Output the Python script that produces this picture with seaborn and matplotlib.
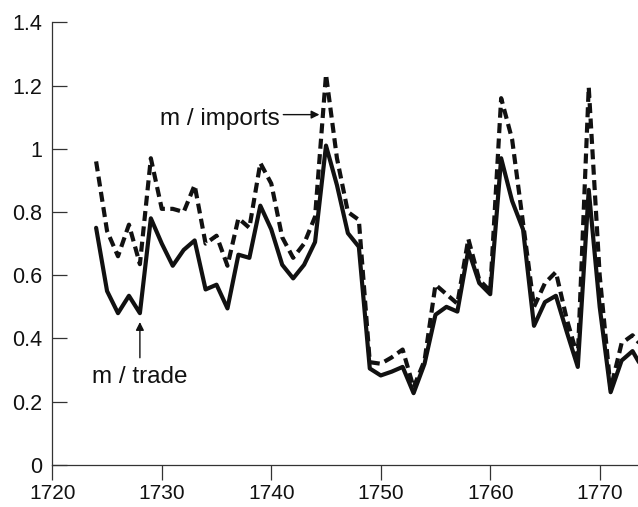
import pandas as pd
import seaborn as sns
import matplotlib.pyplot as plt

# annual series
years = list(range(1724, 1775))
m_trade = [0.75, 0.55, 0.48, 0.535, 0.48, 0.78, 0.70, 0.63, 0.68, 0.71,
           0.555, 0.57, 0.495, 0.665, 0.655, 0.82, 0.745, 0.633, 0.59, 0.633,
           0.705, 1.01, 0.885, 0.733, 0.69, 0.305, 0.283, 0.295, 0.31, 0.227,
           0.32, 0.475, 0.50, 0.485, 0.68, 0.575, 0.54, 0.97, 0.835, 0.745,
           0.44, 0.515, 0.535, 0.42, 0.31, 0.87, 0.50, 0.23, 0.33, 0.36, 0.30]
m_imports = [0.96, 0.74, 0.66, 0.76, 0.635, 0.97, 0.81, 0.81, 0.80, 0.885,
             0.70, 0.725, 0.63, 0.78, 0.75, 0.955, 0.89, 0.72, 0.655, 0.70,
             0.785, 1.235, 0.97, 0.80, 0.775, 0.325, 0.32, 0.34, 0.365, 0.245,
             0.33, 0.57, 0.54, 0.51, 0.715, 0.585, 0.55, 1.16, 1.03, 0.765,
             0.50, 0.575, 0.61, 0.46, 0.34, 1.195, 0.60, 0.24, 0.385, 0.41, 0.37]

x_ticks = [1720, 1730, 1740, 1750, 1760, 1770]
y_ticks = [0, 0.2, 0.4, 0.6, 0.8, 1.0, 1.2, 1.4]
y_labels = ['0', '0.2', '0.4', '0.6', '0.8', '1', '1.2', '1.4']

df = pd.concat([
    pd.DataFrame({'year': years, 'value': m_trade, 'series': 'm / trade'}),
    pd.DataFrame({'year': years, 'value': m_imports, 'series': 'm / imports'}),
], ignore_index=True)

sns.set_theme(style='ticks')
plt.rcParams['font.family'] = ['Liberation Sans', 'DejaVu Sans']

fig = plt.figure(figsize=(6.38, 5.07), dpi=100)
ax = fig.add_axes([0.082, 0.083, 0.918, 0.873])

sns.lineplot(data=df, x='year', y='value', hue='series', style='series',
             palette={'m / trade': '#111111', 'm / imports': '#111111'},
             dashes={'m / trade': '', 'm / imports': (2.4, 1.3)},
             linewidth=3.0, legend=False, ax=ax)

ax.set_xlim(1720, 1773.5)
ax.set_ylim(0, 1.4)
ax.set_xticks(x_ticks)
ax.set_yticks(y_ticks)
ax.set_yticklabels(y_labels)
ax.set_xlabel('')
ax.set_ylabel('')

for side in ['top', 'right']:
    ax.spines[side].set_visible(False)
for side in ['left', 'bottom']:
    ax.spines[side].set_color('#333333')
    ax.spines[side].set_linewidth(0.9)

ax.tick_params(axis='y', direction='in', length=11, width=0.9,
               color='#333333', labelcolor='#111111', labelsize=15.5, pad=7)
ax.tick_params(axis='x', direction='out', length=11, width=0.9,
               color='#333333', labelcolor='#111111', labelsize=15, pad=3)

# labels with arrows
ax.text(1729.8, 1.076, 'm / imports', fontsize=17.5, color='#111111')
ax.annotate('', xy=(1744.4, 1.108), xytext=(1741.1, 1.108),
            arrowprops=dict(arrowstyle='-|>', color='#111111', lw=1,
                            mutation_scale=12, shrinkA=0, shrinkB=0))
ax.text(1723.6, 0.26, 'm / trade', fontsize=17.5, color='#111111')
ax.annotate('', xy=(1728.0, 0.452), xytext=(1728.0, 0.339),
            arrowprops=dict(arrowstyle='-|>', color='#111111', lw=1,
                            mutation_scale=12, shrinkA=0, shrinkB=0))

plt.savefig('out.png', dpi=100)
